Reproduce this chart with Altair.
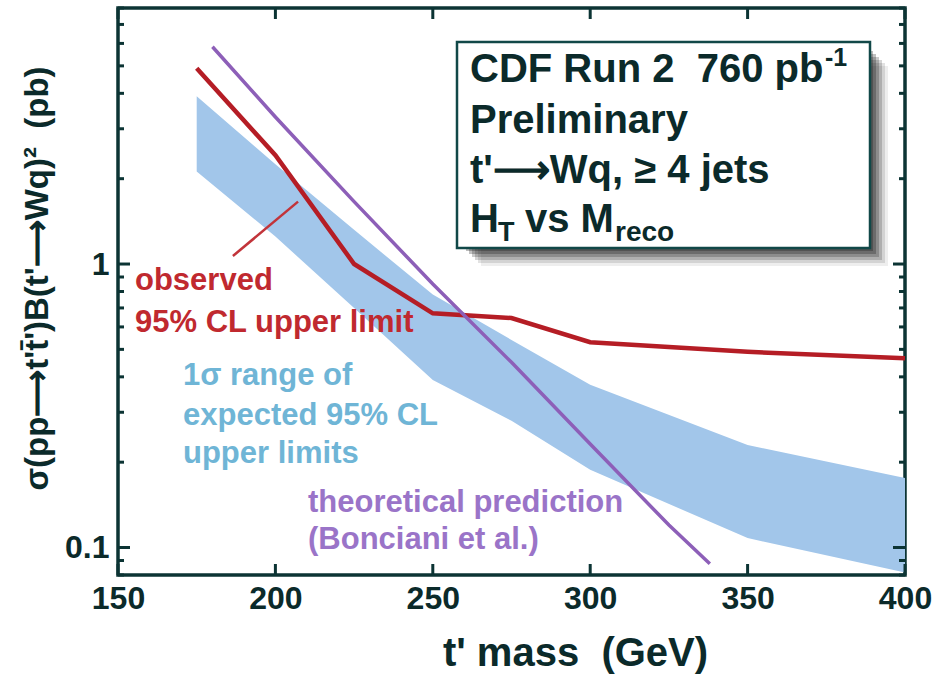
import altair as alt
import pandas as pd

FONT = "Liberation Sans"
AXC = "#0c3434"
TXC = "#0b2a2a"
NB = "\u00a0"
ARW = "\u27f6"

# ---------------- data ----------------
obs_mass = [175, 200, 225, 250, 275, 300, 350, 400]
obs_limit = [4.9, 2.42, 1.0, 0.67, 0.645, 0.53, 0.49, 0.465]

theo_mass = [180, 200, 225, 250, 275, 300, 325, 338]
theo_xsec = [5.84, 3.3, 1.66, 0.85, 0.45, 0.232, 0.12, 0.0877]

band_mass = [175, 200, 225, 250, 275, 300, 350, 400]
band_hi = [3.91, 2.25, 1.32, 0.78, 0.54, 0.375, 0.23, 0.176]
band_lo = [2.12, 1.25, 0.70, 0.39, 0.28, 0.188, 0.108, 0.0816]

pointer_mass = [186.5, 207.2]
pointer_val = [1.067, 1.66]

x_ticks = [150, 200, 250, 300, 350, 400]
y_major = [0.1, 1]
y_minor = [0.08, 0.09, 0.2, 0.3, 0.4, 0.5, 0.6, 0.7, 0.8, 0.9,
           2, 3, 4, 5, 6, 7, 8]

W, H = 787, 567

obs_df = pd.DataFrame({"m": obs_mass, "v": obs_limit})
theo_df = pd.DataFrame({"m": theo_mass, "v": theo_xsec})
band_df = pd.DataFrame({"m": band_mass, "v": band_hi, "v2": band_lo})
ptr_df = pd.DataFrame({"m": pointer_mass, "v": pointer_val})
xt_df = pd.DataFrame({"m": x_ticks})
ymaj_df = pd.DataFrame({"v": y_major})
ymin_df = pd.DataFrame({"v": y_minor})
one = alt.Data(values=[{}])

X = alt.X("m:Q",
          scale=alt.Scale(domain=[150, 400], nice=False, zero=False),
          axis=alt.Axis(values=x_ticks, title="t' mass" + NB + " (GeV)",
                        labelFont=FONT, labelFontSize=32, labelFontWeight="bold",
                        labelColor=TXC, labelPadding=8, labelFlush=False,
                        labelOverlap=False,
                        ticks=False, domain=False, grid=False,
                        titleFont=FONT, titleFontSize=40, titleFontWeight="bold",
                        titleColor=TXC, titleX=457, titleY=90,
                        titleAlign="center", titleBaseline="alphabetic"))
Y = alt.Y("v:Q",
          scale=alt.Scale(type="log", domain=[0.08, 8], nice=False),
          axis=alt.Axis(values=y_major, format="~g",
                        title="\u03c3(pp" + ARW + "t't\u0304')B(t'" + ARW + "Wq)\u00b2" + NB + " (pb)",
                        labelFont=FONT, labelFontSize=32, labelFontWeight="bold",
                        labelColor=TXC, labelPadding=9,
                        ticks=False, domain=False, grid=False,
                        titleFont=FONT, titleFontSize=33, titleFontWeight="bold",
                        titleColor=TXC, titleAngle=270, titleX=-81, titleY=270,
                        titleAlign="center", titleBaseline="middle"))

band = alt.Chart(band_df).mark_area(color="#a2c6ea", opacity=1).encode(
    x=X, y=Y, y2="v2:Q")
obs = alt.Chart(obs_df).mark_line(color="#b51d25", strokeWidth=4.5).encode(x=X, y=Y)
theo = alt.Chart(theo_df).mark_line(color="#8d5fb8", strokeWidth=3.5).encode(x=X, y=Y)
ptr = alt.Chart(ptr_df).mark_line(color="#c2343a", strokeWidth=2.5).encode(x=X, y=Y)

tick_style = dict(color=AXC, strokeWidth=3)
xt_bot = alt.Chart(xt_df).mark_rule(**tick_style).encode(
    x=X, y=alt.value(H), y2=alt.value(H - 11))
xt_top = alt.Chart(xt_df).mark_rule(**tick_style).encode(
    x=X, y=alt.value(0), y2=alt.value(11))
yM_l = alt.Chart(ymaj_df).mark_rule(**tick_style).encode(
    y=Y, x=alt.value(0), x2=alt.value(12))
yM_r = alt.Chart(ymaj_df).mark_rule(**tick_style).encode(
    y=Y, x=alt.value(W), x2=alt.value(W - 12))
ym_l = alt.Chart(ymin_df).mark_rule(**tick_style).encode(
    y=Y, x=alt.value(0), x2=alt.value(6))
ym_r = alt.Chart(ymin_df).mark_rule(**tick_style).encode(
    y=Y, x=alt.value(W), x2=alt.value(W - 6))


def txt(s, x, y, size, color, align="left"):
    return alt.Chart(one).mark_text(
        align=align, baseline="alphabetic", font=FONT, fontSize=size,
        fontWeight="bold", color=color).encode(
        x=alt.value(x), y=alt.value(y), text=alt.value(s))


RED_T = "#c0292f"
BLUE_T = "#6fb5d6"
PURP_T = "#9a74c8"

annots = [
    txt("observed", 17, 282, 31, RED_T),
    txt("95% CL upper limit", 17, 324, 31, RED_T),
    txt("1\u03c3 range of", 65, 377, 31, BLUE_T),
    txt("expected 95% CL", 65, 417, 31, BLUE_T),
    txt("upper limits", 65, 455, 31, BLUE_T),
    txt("theoretical prediction", 190, 504, 31, PURP_T),
    txt("(Bonciani et al.)", 190, 541, 31, PURP_T),
]

# legend box with soft shadow
bx0, bx1, by0, by1 = 339, 752, 34, 240
shadows = []
for off, op in [(3, 0.28), (6, 0.26), (9, 0.22), (12, 0.18), (15, 0.12), (18, 0.07)]:
    shadows.append(alt.Chart(one).mark_rect(color="#111111", opacity=op).encode(
        x=alt.value(bx0 + off + 6), x2=alt.value(bx1 + off),
        y=alt.value(by0 + off + 6), y2=alt.value(by1 + off)))
box = alt.Chart(one).mark_rect(fill="white", stroke="#114848", strokeWidth=2.5).encode(
    x=alt.value(bx0), x2=alt.value(bx1), y=alt.value(by0), y2=alt.value(by1))

box_text = [
    txt("CDF Run 2" + NB + " 760 pb", 352, 74, 40, TXC),
    txt("-1", 707, 58, 25, TXC),
    txt("Preliminary", 352, 125, 40, TXC),
    txt("t'" + ARW + "Wq, \u2265 4 jets", 352, 175, 40, TXC),
    txt("H", 352, 224, 40, TXC),
    txt("T", 380, 233, 27, TXC),
    txt("vs M", 407, 224, 40, TXC),
    txt("reco", 497, 233, 28, TXC),
]

chart = alt.layer(
    band, obs, theo, ptr,
    xt_bot, xt_top, yM_l, yM_r, ym_l, ym_r,
    *annots, *shadows, box, *box_text
).properties(
    width=W, height=H,
    autosize=alt.AutoSizeParams(type="none"),
    padding={"left": 118, "top": 8, "right": 33, "bottom": 102},
    background="white",
).configure_view(stroke=AXC, strokeWidth=3.5)

chart.save("out.html", embed_options={"renderer": "svg", "actions": False})
